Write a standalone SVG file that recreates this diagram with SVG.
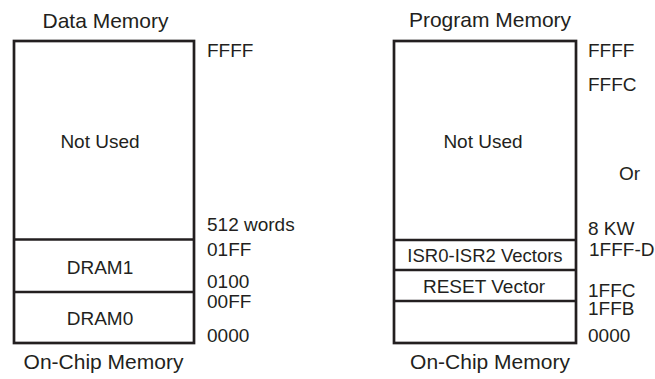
<svg xmlns="http://www.w3.org/2000/svg" width="655" height="379" viewBox="0 0 655 379">
<style>
text{font-family:"Liberation Sans",Arial,sans-serif;fill:#231f20;font-size:19px}
.h{font-size:21px;text-anchor:middle}
.c{text-anchor:middle}
.box{fill:#fff;stroke:#231f20;stroke-width:2.7}
</style>
<rect width="655" height="379" fill="#fff"/>
<g id="data-memory">
<text class="h" x="105.5" y="28">Data Memory</text>
<rect class="box" x="14" y="41" width="180" height="302"/>
<text class="h" x="103.5" y="369">On-Chip Memory</text>
</g>
<g id="data-notused">
<line class="box" x1="14" y1="239.5" x2="194" y2="239.5"/>
<text class="c" x="100" y="147.5">Not Used</text>
</g>
<g id="dram1">
<line class="box" x1="14" y1="292" x2="194" y2="292"/>
<text class="c" x="100" y="274">DRAM1</text>
</g>
<g id="dram0">
<text class="c" x="100" y="325">DRAM0</text>
</g>
<g id="data-addr">
<text x="207" y="57">FFFF</text>
<text x="207" y="231">512 words</text>
<text x="207" y="256">01FF</text>
<text x="207" y="288">0100</text>
<text x="207" y="308">00FF</text>
<text x="207" y="342">0000</text>
</g>
<g id="program-memory">
<text class="h" x="490" y="27">Program Memory</text>
<rect class="box" x="394" y="41" width="182" height="302"/>
<text class="h" x="490" y="369">On-Chip Memory</text>
</g>
<g id="prog-notused">
<line class="box" x1="394" y1="240" x2="576" y2="240"/>
<text class="c" x="483" y="147.5">Not Used</text>
</g>
<g id="isr">
<line class="box" x1="394" y1="270" x2="576" y2="270"/>
<text class="c" x="485" y="262" style="font-size:18.5px">ISR0-ISR2 Vectors</text>
</g>
<g id="reset">
<line class="box" x1="394" y1="301" x2="576" y2="301"/>
<text class="c" x="484" y="292.5">RESET Vector</text>
</g>
<g id="prog-low"></g>
<g id="prog-addr">
<text x="588" y="57">FFFF</text>
<text x="588" y="91">FFFC</text>
<text x="619" y="180">Or</text>
<text x="588" y="235">8 KW</text>
<text x="589" y="256">1FFF-D</text>
<text x="588" y="297">1FFC</text>
<text x="588" y="315">1FFB</text>
<text x="588" y="342">0000</text>
</g>
<g id="connectors"></g>
</svg>
